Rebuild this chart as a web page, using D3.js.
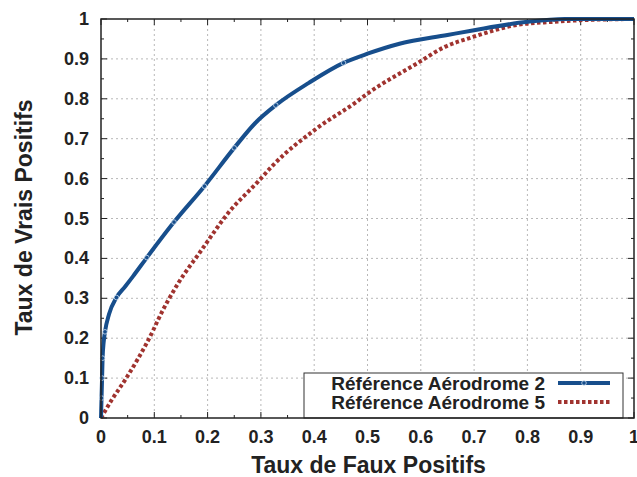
<!DOCTYPE html>
<html>
<head>
<meta charset="utf-8">
<script src="https://cdn.jsdelivr.net/npm/d3@7"></script>
<style>
  body { margin: 0; background: #fff; }
  text { font-family: "Liberation Sans", Arial, sans-serif; font-weight: bold; fill: #222; }
</style>
</head>
<body>
<svg id="roc"></svg>
<script>
// values
var seriesNames = ["Référence Aérodrome 2", "Référence Aérodrome 5"];
var ticks = [0, 0.1, 0.2, 0.3, 0.4, 0.5, 0.6, 0.7, 0.8, 0.9, 1];
var tickLabels = ["0", "0.1", "0.2", "0.3", "0.4", "0.5", "0.6", "0.7", "0.8", "0.9", "1"];

var fpr2 = [0, 0.001, 0.002, 0.003, 0.005, 0.0075, 0.015, 0.029, 0.045, 0.06, 0.086, 0.137, 0.194, 0.25, 0.29, 0.328, 0.39, 0.455, 0.5, 0.56, 0.65, 0.7, 0.8, 0.87, 1];
var tpr2 = [0, 0.05, 0.1, 0.15, 0.19, 0.216, 0.26, 0.302, 0.329, 0.355, 0.402, 0.491, 0.581, 0.677, 0.74, 0.784, 0.84, 0.89, 0.913, 0.938, 0.96, 0.972, 0.993, 1, 1];
var marks2 = [0.001, 0.002, 0.003, 0.0075, 0.029, 0.086, 0.137, 0.194, 0.25, 0.328, 0.455];

var fpr5 = [0, 0.02, 0.045, 0.07, 0.098, 0.107, 0.145, 0.186, 0.24, 0.295, 0.323, 0.405, 0.48, 0.5, 0.592, 0.645, 0.698, 0.78, 0.85, 0.9, 1];
var tpr5 = [0, 0.045, 0.095, 0.15, 0.22, 0.246, 0.338, 0.416, 0.516, 0.593, 0.634, 0.726, 0.793, 0.813, 0.888, 0.93, 0.955, 0.985, 0.993, 0.997, 1];

var margin = {top: 19, right: 3, bottom: 59, left: 101},
    width = 637 - margin.left - margin.right,
    height = 477 - margin.top - margin.bottom;

var svg = d3.select("#roc")
    .attr("width", 637)
    .attr("height", 477)
  .append("g")
    .attr("transform", `translate(${margin.left}, ${margin.top})`);

var x = d3.scaleLinear().domain([0, 1]).range([0, width]);
var y = d3.scaleLinear().domain([0, 1]).range([height, 0]);

// dotted grid
var inner = ticks.slice(1, -1);
svg.append("g").selectAll("line").data(inner).enter().append("line")
    .attr("x1", d => x(d)).attr("x2", d => x(d))
    .attr("y1", 0).attr("y2", height)
    .attr("stroke", "#b8b8b8").attr("stroke-width", 1).attr("stroke-dasharray", "2,3");
svg.append("g").selectAll("line").data(inner).enter().append("line")
    .attr("y1", d => y(d)).attr("y2", d => y(d))
    .attr("x1", 0).attr("x2", width)
    .attr("stroke", "#b8b8b8").attr("stroke-width", 1).attr("stroke-dasharray", "2,3");

// ticks inside on all sides
var minor = d3.range(0.05, 1, 0.1);
function tickMarks(vals, len) {
  var g = svg.append("g").attr("stroke", "#222").attr("stroke-width", 1);
  vals.forEach(function(v) {
    g.append("line").attr("x1", x(v)).attr("x2", x(v)).attr("y1", height).attr("y2", height - len);
    g.append("line").attr("x1", x(v)).attr("x2", x(v)).attr("y1", 0).attr("y2", len);
    g.append("line").attr("y1", y(v)).attr("y2", y(v)).attr("x1", 0).attr("x2", len);
    g.append("line").attr("y1", y(v)).attr("y2", y(v)).attr("x1", width).attr("x2", width - len);
  });
}
tickMarks(ticks, 6);
tickMarks(minor, 3);

// tick labels
svg.append("g").selectAll("text").data(ticks).enter().append("text")
    .attr("x", d => x(d)).attr("y", height + 25)
    .attr("text-anchor", "middle").style("font-size", "18px")
    .text((d, i) => tickLabels[i]);
svg.append("g").selectAll("text").data(ticks).enter().append("text")
    .attr("x", -12).attr("y", d => y(d) + 6)
    .attr("text-anchor", "end").style("font-size", "18px")
    .text((d, i) => tickLabels[i]);

// axis titles
svg.append("text")
    .attr("x", width / 2 + 1).attr("y", height + 55)
    .attr("text-anchor", "middle").style("font-size", "23px")
    .text("Taux de Faux Positifs");
svg.append("text")
    .attr("transform", "rotate(-90)")
    .attr("x", -height / 2 + 1).attr("y", -69)
    .attr("text-anchor", "middle").style("font-size", "23px")
    .text("Taux de Vrais Positifs");

var line = d3.line().x(d => x(d[0])).y(d => y(d[1])).curve(d3.curveMonotoneX);
var data2 = fpr2.map((v, i) => [v, tpr2[i]]);
var data5 = fpr5.map((v, i) => [v, tpr5[i]]);

svg.append("path").datum(data5)
    .attr("d", line).attr("fill", "none")
    .attr("stroke", "#a0332f").attr("stroke-width", 4)
    .attr("stroke-dasharray", "3.5,2.5");

svg.append("path").datum(data2)
    .attr("d", line).attr("fill", "none")
    .attr("stroke", "#174e8c").attr("stroke-width", 4);

svg.append("g").selectAll("circle").data(marks2).enter().append("circle")
    .attr("cx", d => x(d))
    .attr("cy", d => y(tpr2[fpr2.indexOf(d)]))
    .attr("r", 2.3).attr("fill", "#174e8c")
    .attr("stroke", "#cfe0f0").attr("stroke-width", 0.8);

// legend
var lg = svg.append("g");
lg.append("rect")
    .attr("x", 203).attr("y", 354).attr("width", 319).attr("height", 45)
    .attr("fill", "#fff").attr("stroke", "#333").attr("stroke-width", 1);
var colors = ["#174e8c", "#a0332f"];
seriesNames.forEach(function(name, i) {
  var cy = 364 + i * 19;
  lg.append("text").attr("x", 444).attr("y", cy + 7)
      .attr("text-anchor", "end").style("font-size", "19px").text(name);
  lg.append("line").attr("x1", 457).attr("x2", 509).attr("y1", cy).attr("y2", cy)
      .attr("stroke", colors[i]).attr("stroke-width", 4)
      .attr("stroke-dasharray", i === 1 ? "3.5,2.5" : null);
  if (i === 0) {
    lg.append("circle").attr("cx", 483).attr("cy", cy).attr("r", 2.3)
        .attr("fill", colors[0]).attr("stroke", "#cfe0f0").attr("stroke-width", 0.8);
  }
});

// frame
svg.append("rect")
    .attr("x", 0).attr("y", 0).attr("width", width).attr("height", height)
    .attr("fill", "none").attr("stroke", "#222").attr("stroke-width", 1.5);
</script>
</body>
</html>
